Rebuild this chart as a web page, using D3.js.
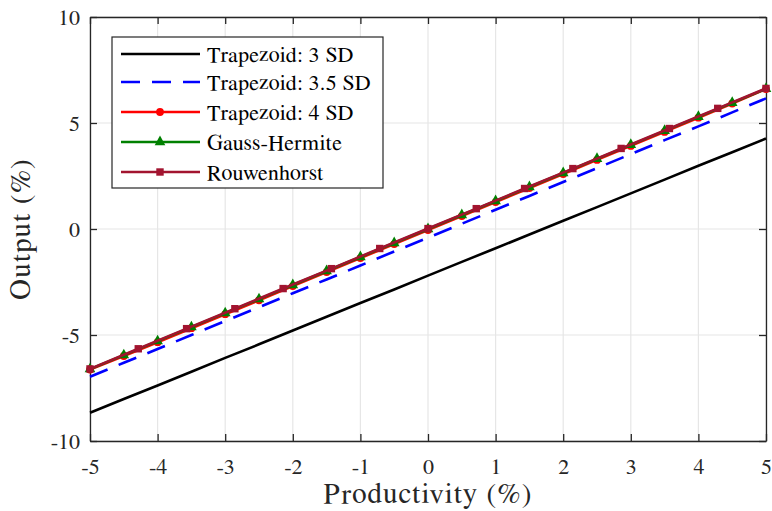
<!DOCTYPE html>
<html>
<head>
<meta charset="utf-8">
<script src="https://cdn.jsdelivr.net/npm/d3@7"></script>
</head>
<body style="margin:0; background:#ffffff">
<div id="chart"></div>
<script>

/* Data -------------------------------------------------------------------- */

const xTicks = [-5, -4, -3, -2, -1, 0, 1, 2, 3, 4, 5];
const yTicks = [-10, -5, 0, 5, 10];

// Productivity grid (%) used by the trapezoid and Gauss-Hermite solutions
const gridX = [-5, -4.5, -4, -3.5, -3, -2.5, -2, -1.5, -1, -0.5, 0,
    0.5, 1, 1.5, 2, 2.5, 3, 3.5, 4, 4.5, 5];

const trap3 = [-8.67, -8.02, -7.38, -6.73, -6.08, -5.44, -4.79, -4.14, -3.49,
    -2.85, -2.20, -1.55, -0.91, -0.26, 0.39, 1.03, 1.68, 2.33, 2.98, 3.62, 4.27];

const trap35 = [-6.97, -6.31, -5.66, -5.00, -4.34, -3.69, -3.03, -2.38, -1.72,
    -1.06, -0.41, 0.25, 0.91, 1.56, 2.22, 2.87, 3.53, 4.19, 4.84, 5.50, 6.16];

const trap4 = [-6.63, -5.99, -5.34, -4.68, -4.02, -3.36, -2.69, -2.03, -1.37,
    -0.71, -0.05, 0.61, 1.27, 1.93, 2.59, 3.26, 3.92, 4.58, 5.25, 5.92, 6.60];

const gaussHermite = [-6.61, -5.95, -5.29, -4.63, -3.97, -3.31, -2.64, -1.98,
    -1.32, -0.66, 0.00, 0.66, 1.32, 1.98, 2.64, 3.31, 3.97, 4.63, 5.29, 5.95, 6.61];

// Rouwenhorst uses its own 15-point grid
const rouwX = [-5, -4.286, -3.571, -2.857, -2.143, -1.429, -0.714, 0,
    0.714, 1.429, 2.143, 2.857, 3.571, 4.286, 5];
const rouwY = [-6.60, -5.65, -4.70, -3.76, -2.81, -1.87, -0.92, 0.02,
    0.96, 1.91, 2.85, 3.80, 4.74, 5.69, 6.63];

const series = [
    {name: "Trapezoid: 3 SD", x: gridX, y: trap3, color: "#000000", dash: null, marker: null},
    {name: "Trapezoid: 3.5 SD", x: gridX, y: trap35, color: "#0000ff", dash: "19,12", marker: null},
    {name: "Trapezoid: 4 SD", x: gridX, y: trap4, color: "#ff0000", dash: null, marker: "circle"},
    {name: "Gauss-Hermite", x: gridX, y: gaussHermite, color: "#008000", dash: null, marker: "triangle"},
    {name: "Rouwenhorst", x: rouwX, y: rouwY, color: "#a2142f", dash: null, marker: "square"}
];

/* Draw graphic ------------------------------------------------------------ */

const totalWidth = 772;
const totalHeight = 511;
const margin = {top: 17, right: 6, bottom: 70, left: 90};
const width = totalWidth - margin.left - margin.right;
const height = totalHeight - margin.top - margin.bottom;

const axisColor = "#262626";
const gridColor = "#e6e6e6";
const serif = "\"FreeSerif\", \"Liberation Serif\", \"Times New Roman\", serif";

const xScale = d3.scaleLinear().domain([-5, 5]).range([0, width]);
const yScale = d3.scaleLinear().domain([-10, 10]).range([height, 0]);

const svg = d3.select("#chart")
    .append("svg")
    .attr("width", totalWidth)
    .attr("height", totalHeight);

svg.append("rect")
    .attr("width", totalWidth)
    .attr("height", totalHeight)
    .attr("fill", "#ffffff");

const canvas = svg.append("g")
    .attr("transform", `translate(${margin.left},${margin.top})`);

// Gridlines
const grid = canvas.append("g").attr("class", "grid");

grid.selectAll("line.gx")
    .data(xTicks)
    .enter()
    .append("line")
    .attr("class", "gx")
    .attr("x1", d => xScale(d))
    .attr("x2", d => xScale(d))
    .attr("y1", 0)
    .attr("y2", height)
    .attr("stroke", gridColor)
    .attr("stroke-width", 1.2);

grid.selectAll("line.gy")
    .data(yTicks)
    .enter()
    .append("line")
    .attr("class", "gy")
    .attr("x1", 0)
    .attr("x2", width)
    .attr("y1", d => yScale(d))
    .attr("y2", d => yScale(d))
    .attr("stroke", gridColor)
    .attr("stroke-width", 1.2);

// Axes (ticks inside, box on)
function styleAxis(g) {
    g.select(".domain").attr("stroke", axisColor).attr("stroke-width", 1.3);
    g.selectAll(".tick line").attr("stroke", axisColor).attr("stroke-width", 1.3);
    g.selectAll("text")
        .attr("fill", axisColor)
        .style("font-family", serif)
        .style("font-size", "22px");
}

const plainFormat = d => String(d);

canvas.append("g")
    .attr("class", "axis xaxis")
    .attr("transform", `translate(0,${height})`)
    .call(d3.axisBottom(xScale).tickValues(xTicks).tickSize(-7)
        .tickSizeOuter(0).tickPadding(17).tickFormat(plainFormat))
    .call(styleAxis);

canvas.append("g")
    .attr("class", "axis xaxis-top")
    .call(d3.axisTop(xScale).tickValues(xTicks).tickSize(-7)
        .tickSizeOuter(0).tickFormat(""))
    .call(styleAxis);

canvas.append("g")
    .attr("class", "axis yaxis")
    .call(d3.axisLeft(yScale).tickValues(yTicks).tickSize(-7)
        .tickSizeOuter(0).tickPadding(10).tickFormat(plainFormat))
    .call(styleAxis);

canvas.append("g")
    .attr("class", "axis yaxis-right")
    .attr("transform", `translate(${width},0)`)
    .call(d3.axisRight(yScale).tickValues(yTicks).tickSize(-7)
        .tickSizeOuter(0).tickFormat(""))
    .call(styleAxis);

// Lines
const line = d3.line()
    .x(d => xScale(d[0]))
    .y(d => yScale(d[1]));

function drawMarker(g, type, color) {
    if (type === "circle") {
        g.append("circle").attr("r", 3.9).attr("fill", color);
    } else if (type === "triangle") {
        g.append("path")
            .attr("d", "M0,-6.5 L5.3,3.2 L-5.3,3.2 Z")
            .attr("fill", color);
    } else if (type === "square") {
        g.append("rect")
            .attr("x", -3.7).attr("y", -3.7)
            .attr("width", 7.4).attr("height", 7.4)
            .attr("fill", color);
    }
}

series.forEach(s => {
    const points = s.x.map((x, i) => [x, s.y[i]]);

    const group = canvas.append("g").attr("class", "series");

    group.append("path")
        .datum(points)
        .attr("fill", "none")
        .attr("stroke", s.color)
        .attr("stroke-width", 2.6)
        .attr("stroke-dasharray", s.dash)
        .attr("d", line);

    if (s.marker) {
        group.selectAll(".marker")
            .data(points)
            .enter()
            .append("g")
            .attr("class", "marker")
            .attr("transform", d => `translate(${xScale(d[0])},${yScale(d[1])})`)
            .each(function() { drawMarker(d3.select(this), s.marker, s.color); });
    }
});

// Axis titles
svg.append("text")
    .attr("x", margin.left + width / 2)
    .attr("y", 503)
    .style("text-anchor", "middle")
    .style("font-family", serif)
    .style("font-size", "29px")
    .style("letter-spacing", "1.2px")
    .attr("fill", axisColor)
    .text("Productivity (%)");

svg.append("text")
    .attr("transform", `translate(30,${margin.top + height / 2}) rotate(-90)`)
    .style("text-anchor", "middle")
    .style("font-family", serif)
    .style("font-size", "29px")
    .style("letter-spacing", "1.2px")
    .attr("fill", axisColor)
    .text("Output (%)");

/* Legend ------------------------------------------------------------------ */

const legend = svg.append("g")
    .attr("transform", "translate(112,37)");

legend.append("rect")
    .attr("width", 271)
    .attr("height", 151)
    .attr("fill", "#ffffff")
    .attr("stroke", axisColor)
    .attr("stroke-width", 1.2);

const legendRowY = [17, 45, 75, 105, 135];

series.forEach((s, i) => {
    const row = legend.append("g")
        .attr("transform", `translate(0,${legendRowY[i]})`);

    row.append("line")
        .attr("x1", 9)
        .attr("x2", 88)
        .attr("stroke", s.color)
        .attr("stroke-width", 2.6)
        .attr("stroke-dasharray", s.dash);

    if (s.marker) {
        const m = row.append("g").attr("transform", "translate(48,0)");
        drawMarker(m, s.marker, s.color);
    }

    row.append("text")
        .attr("x", 95)
        .attr("y", 0)
        .attr("dy", "0.35em")
        .style("font-family", serif)
        .style("font-size", "22px")
        .style("letter-spacing", "0.3px")
        .attr("fill", "#000000")
        .text(s.name);
});

</script>
</body>
</html>
